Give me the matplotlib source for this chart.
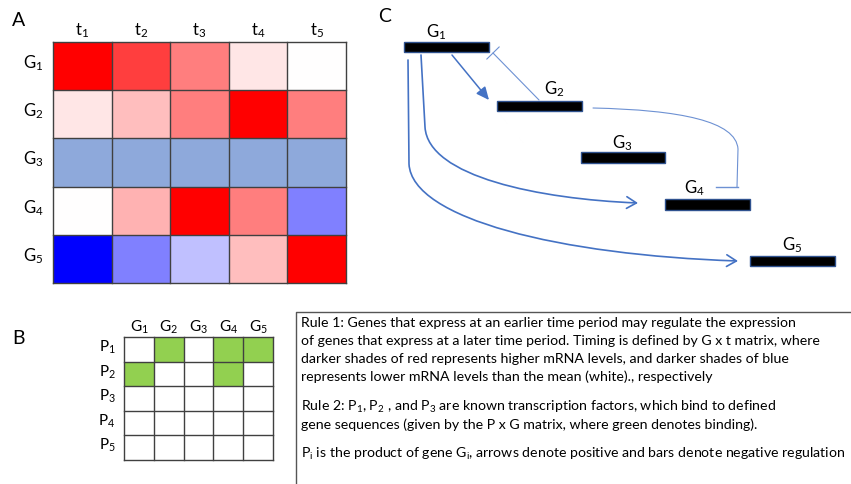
import numpy as np
import matplotlib.pyplot as plt
from matplotlib.path import Path
from matplotlib.patches import FancyArrowPatch, Rectangle
from matplotlib.colors import ListedColormap

plt.rcParams.update({
    "font.family": ["Lato", "DejaVu Sans"],
    "mathtext.fontset": "custom",
    "mathtext.rm": "Lato",
    "mathtext.it": "Lato:italic",
})

# --- Panel A: expression (G x t), + = red, - = blue, G3 shown in its own colour ---
times = ["t$_1$", "t$_2$", "t$_3$", "t$_4$", "t$_5$"]
genes = ["G$_1$", "G$_2$", "G$_3$", "G$_4$", "G$_5$"]
expr_g1 = [1.0, 0.75, 0.5, 0.1, 0.0]
expr_g2 = [0.1, 0.25, 0.5, 1.0, 0.5]
expr_g3 = [np.nan] * 5
expr_g4 = [0.0, 0.3, 1.0, 0.5, -0.5]
expr_g5 = [-1.0, -0.5, -0.25, 0.25, 1.0]

# --- Panel B: binding (P x G) ---
factors = ["P$_1$", "P$_2$", "P$_3$", "P$_4$", "P$_5$"]
bind_p1 = [0, 1, 0, 1, 1]
bind_p2 = [1, 0, 0, 1, 0]
bind_p3 = [0, 0, 0, 0, 0]
bind_p4 = [0, 0, 0, 0, 0]
bind_p5 = [0, 0, 0, 0, 0]

# --- Panel C: gene bars (left, top, width, height) and label spots ---
bar_x = [404, 497, 581, 665, 750]
bar_y = [43, 102, 153, 200, 257]
bar_w = [85, 85, 84, 85, 85]
bar_h = [10, 10, 11, 11, 10]
lab_x = [436, 554, 622, 694, 792]
lab_y = [32, 89, 143, 188, 245]

rule_lines = [
    "Rule 1: Genes that express at an earlier time period may regulate the expression",
    "of genes that express at a later time period. Timing is defined by G x t matrix, where",
    "darker shades of red represents higher mRNA levels, and darker shades of blue",
    "represents lower mRNA levels than the mean (white)., respectively",
    "",
    "Rule 2: P$_1$, P$_2$ , and P$_3$ are known transcription factors, which bind to defined",
    "gene sequences (given by the P x G matrix, where green denotes binding).",
    "",
    "P$_\\mathregular{i}$ is the product of gene G$_\\mathregular{i}$, arrows denote positive and bars denote negative regulation",
]

W, H = 851, 485
fig = plt.figure(figsize=(W / 100, H / 100), dpi=100)
ax = fig.add_axes([0, 0, 1, 1])
ax.set_xlim(0, W)
ax.set_ylim(H, 0)
ax.axis("off")

edge = "#404040"

# ---------------- A ----------------
expr = np.array([expr_g1, expr_g2, expr_g3, expr_g4, expr_g5])
cmap = plt.get_cmap("bwr").copy()
cmap.set_bad("#8EA9DB")
ax0, ax1, ay0, ay1 = 53, 346, 43, 284
ax.imshow(np.ma.masked_invalid(expr), cmap=cmap, vmin=-1, vmax=1,
          extent=(ax0, ax1, ay1, ay0), aspect="auto", interpolation="nearest")
cw = (ax1 - ax0) / len(times)
rh = (ay1 - ay0) / len(genes)
for i in range(len(times) + 1):
    ax.plot([ax0 + i * cw] * 2, [ay0, ay1], color=edge, lw=1)
for j in range(len(genes) + 1):
    ax.plot([ax0, ax1], [ay0 + j * rh] * 2, color=edge, lw=1)
for i, t in enumerate(times):
    ax.text(ax0 + (i + 0.5) * cw, 31, t, ha="center", va="center", fontsize=12)
for j, g in enumerate(genes):
    ax.text(33, ay0 + (j + 0.5) * rh - 4, g, ha="center", va="center", fontsize=12)
ax.text(12, 20, "A", ha="left", va="center", fontsize=14)

# ---------------- B ----------------
bind = np.array([bind_p1, bind_p2, bind_p3, bind_p4, bind_p5])
bx0, bx1, by0, by1 = 124, 273, 338, 461
ax.imshow(bind, cmap=ListedColormap(["white", "#92D050"]), vmin=0, vmax=1,
          extent=(bx0, bx1, by1, by0), aspect="auto", interpolation="nearest")
bw = (bx1 - bx0) / len(genes)
bh = (by1 - by0) / len(factors)
for i in range(len(genes) + 1):
    ax.plot([bx0 + i * bw] * 2, [by0, by1], color=edge, lw=1)
for j in range(len(factors) + 1):
    ax.plot([bx0, bx1], [by0 + j * bh] * 2, color=edge, lw=1)
for i, g in enumerate(genes):
    ax.text(bx0 + (i + 0.5) * bw, 327, g, ha="center", va="center", fontsize=11)
for j, p in enumerate(factors):
    ax.text(107, by0 + (j + 0.5) * bh - 3, p, ha="center", va="center", fontsize=11)
ax.text(12, 339, "B", ha="left", va="center", fontsize=14)

# ---------------- C ----------------
ax.text(378, 17, "C", ha="left", va="center", fontsize=14)
for k in range(5):
    ax.add_patch(Rectangle((bar_x[k], bar_y[k]), bar_w[k], bar_h[k],
                           facecolor="black", edgecolor="#2F528F", lw=1))
    ax.text(lab_x[k], lab_y[k], genes[k], ha="center", va="center", fontsize=12)

blue = "#4472C4"
thin = "#6D91D3"

# G1 -> G2 (straight, filled head)
ax.add_patch(FancyArrowPatch((452, 56), (489, 101), arrowstyle="-|>,head_length=0.55,head_width=0.25",
                             mutation_scale=14, color=blue, lw=1.1, shrinkA=0, shrinkB=0))
# G2 -| G1
ax.add_patch(FancyArrowPatch((539, 101), (493, 54), arrowstyle="-[,widthB=0.45,lengthB=0",
                             mutation_scale=14, color=thin, lw=0.8, shrinkA=0, shrinkB=0))
# G2 -| G4 (curved)
p24 = Path([(593, 109), (680, 111), (736, 122), (738, 150), (737, 188)],
           [Path.MOVETO, Path.CURVE4, Path.CURVE4, Path.CURVE4, Path.LINETO])
ax.add_patch(FancyArrowPatch(path=p24, arrowstyle="-", color=thin, lw=0.8))
ax.plot([716, 738], [188, 188], color=thin, lw=1.0)
# G1 -> G4
p14 = Path([(421, 56), (425, 128), (428, 178), (540, 200), (638, 204)],
           [Path.MOVETO, Path.LINETO, Path.CURVE4, Path.CURVE4, Path.CURVE4])
ax.add_patch(FancyArrowPatch(path=p14, arrowstyle="->,head_length=0.5,head_width=0.3",
                             mutation_scale=14, color=blue, lw=1.2))
# G1 -> G5
p15 = Path([(408, 61), (409, 165), (412, 220), (560, 256), (738, 262)],
           [Path.MOVETO, Path.LINETO, Path.CURVE4, Path.CURVE4, Path.CURVE4])
ax.add_patch(FancyArrowPatch(path=p15, arrowstyle="->,head_length=0.5,head_width=0.3",
                             mutation_scale=14, color=blue, lw=1.2))

# ---------------- rules box ----------------
ax.plot([296, 296, W + 5], [H + 5, 313, 313], color="#555555", lw=1)
y = 323
for line in rule_lines:
    if line:
        ax.text(301, y, line, ha="left", va="center", fontsize=10.2)
    y += 18 if line else 11.5

fig.savefig("out.png", dpi=100)
